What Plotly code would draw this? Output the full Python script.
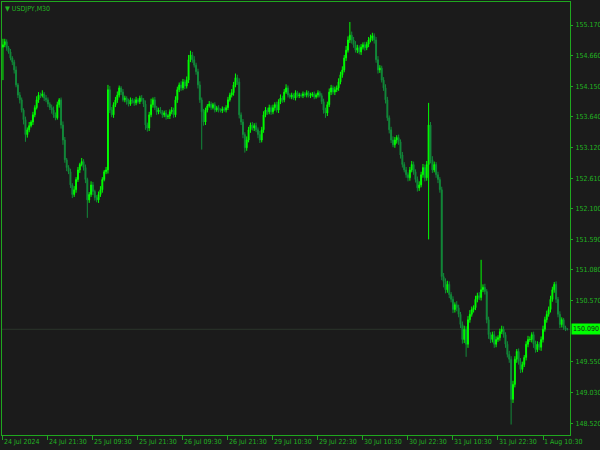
import plotly.graph_objects as go

# ---------------- data ----------------
first_open = 154.80

close = [
    154.84,154.89,154.79,154.72,154.62,154.55,154.42,154.17,154.00,153.92,
    153.75,153.59,153.34,153.42,153.49,153.55,153.67,153.79,153.92,154.00,
    153.99,154.02,153.95,153.92,153.85,153.79,153.75,153.67,153.62,153.84,
    153.92,153.50,153.25,152.92,152.79,152.72,152.50,152.34,152.42,152.59,
    152.75,152.84,152.89,152.79,152.59,152.25,152.34,152.50,152.39,152.29,
    152.25,152.34,152.42,152.59,152.72,152.75,154.09,153.75,153.67,153.84,
    153.92,154.00,154.12,154.05,153.92,153.95,153.89,153.85,153.92,153.90,
    153.87,153.92,153.89,153.95,153.92,153.85,153.50,153.45,153.67,153.84,
    153.92,153.79,153.72,153.75,153.72,153.67,153.70,153.64,153.65,153.72,
    153.75,153.67,153.92,154.09,154.17,154.12,154.22,154.15,154.25,154.59,
    154.67,154.59,154.50,154.39,154.17,153.92,153.72,153.55,153.75,153.82,
    153.85,153.79,153.84,153.75,153.79,153.75,153.74,153.77,153.75,153.79,
    153.92,154.00,154.04,154.17,154.29,154.22,153.67,153.55,153.34,153.12,
    153.25,153.42,153.50,153.45,153.49,153.42,153.34,153.25,153.42,153.67,
    153.75,153.72,153.79,153.72,153.79,153.84,153.75,153.89,153.95,153.92,
    154.05,154.12,154.00,153.97,154.00,153.95,154.04,153.99,154.00,153.99,
    154.02,154.00,154.04,153.99,154.00,154.02,153.97,154.00,154.04,153.99,
    153.89,153.75,153.70,153.84,154.05,154.12,154.05,154.09,154.12,154.22,
    154.34,154.42,154.62,154.75,154.92,155.00,154.92,154.84,154.75,154.79,
    154.72,154.80,154.84,154.79,154.85,154.92,154.95,154.99,154.92,154.59,
    154.42,154.45,154.25,154.12,153.92,153.62,153.42,153.25,153.17,153.25,
    153.29,153.22,153.00,152.84,152.75,152.67,152.62,152.75,152.84,152.72,
    152.59,152.45,152.50,152.67,152.79,152.62,152.84,153.50,152.92,152.75,
    152.84,152.67,152.59,152.42,150.97,150.89,150.75,150.84,150.67,150.59,
    150.42,150.50,150.45,150.34,150.17,149.92,150.09,149.84,150.25,150.34,
    150.42,150.45,150.59,150.65,150.62,150.75,150.79,150.72,150.25,150.00,
    149.92,150.00,149.84,149.92,149.95,150.05,150.09,150.00,149.84,149.67,
    149.59,148.92,149.17,149.59,149.72,149.55,149.42,149.50,149.62,149.84,
    149.92,149.92,150.00,149.84,149.75,149.84,149.79,149.92,150.09,150.25,
    150.34,150.42,150.59,150.75,150.84,150.59,150.34,150.17,150.25,150.12,
    150.09,150.09,
]

upper_wick = [
    0.10,0.05,0.04,0.03,0.05,0.03,0.04,0.06,0.03,0.05,0.04,0.03,0.05,0.04,0.06,0.03,0.05,0.04,0.06,0.05,
    0.04,0.06,0.03,0.05,0.04,0.03,0.05,0.06,0.04,0.05,0.03,0.04,0.06,0.05,0.03,0.04,0.05,0.03,0.06,0.04,
    0.05,0.03,0.06,0.04,0.05,0.03,0.04,0.06,0.05,0.03,0.04,0.05,0.06,0.04,0.03,0.05,0.08,0.06,0.05,0.04,
    0.05,0.06,0.04,0.03,0.05,0.04,0.03,0.05,0.04,0.03,0.04,0.05,0.03,0.04,0.05,0.03,0.06,0.04,0.05,0.10,
    0.04,0.05,0.03,0.04,0.05,0.03,0.04,0.05,0.03,0.04,0.05,0.04,0.06,0.05,0.04,0.06,0.05,0.04,0.06,0.08,
    0.07,0.05,0.06,0.04,0.05,0.06,0.04,0.05,0.04,0.03,0.05,0.04,0.03,0.04,0.03,0.04,0.03,0.04,0.03,0.04,
    0.05,0.04,0.06,0.05,0.07,0.05,0.06,0.04,0.05,0.04,0.06,0.05,0.04,0.05,0.04,0.05,0.04,0.06,0.05,0.06,
    0.05,0.04,0.05,0.04,0.05,0.04,0.05,0.04,0.06,0.04,0.05,0.06,0.04,0.03,0.04,0.03,0.04,0.03,0.04,0.03,
    0.04,0.03,0.04,0.03,0.04,0.03,0.04,0.03,0.04,0.03,0.04,0.05,0.04,0.05,0.06,0.05,0.04,0.05,0.04,0.06,
    0.05,0.06,0.05,0.07,0.06,0.22,0.06,0.05,0.06,0.05,0.04,0.05,0.04,0.05,0.04,0.05,0.06,0.05,0.04,0.05,
    0.06,0.05,0.04,0.05,0.06,0.05,0.04,0.05,0.06,0.05,0.04,0.05,0.04,0.05,0.04,0.05,0.04,0.05,0.06,0.05,
    0.04,0.05,0.06,0.05,0.06,0.05,0.06,0.37,0.05,0.06,0.05,0.04,0.05,0.04,0.05,0.06,0.05,0.06,0.05,0.04,
    0.05,0.04,0.06,0.05,0.04,0.05,0.06,0.05,0.06,0.07,0.05,0.04,0.06,0.05,0.06,0.50,0.05,0.06,0.04,0.05,
    0.04,0.05,0.06,0.05,0.04,0.05,0.06,0.05,0.04,0.05,0.06,0.05,0.06,0.05,0.04,0.05,0.06,0.05,0.04,0.05,
    0.06,0.05,0.04,0.05,0.06,0.05,0.04,0.05,0.06,0.05,0.06,0.05,0.06,0.05,0.04,0.05,0.04,0.05,0.04,0.03,
    0.03,0.02,
]

lower_wick = [
    0.55,0.04,0.05,0.03,0.04,0.05,0.06,0.04,0.05,0.06,0.04,0.08,0.12,0.05,0.04,0.03,0.05,0.04,0.03,0.05,
    0.04,0.03,0.05,0.04,0.05,0.04,0.06,0.05,0.04,0.03,0.05,0.06,0.08,0.05,0.06,0.04,0.05,0.06,0.04,0.05,
    0.04,0.05,0.03,0.05,0.06,0.30,0.05,0.04,0.06,0.05,0.04,0.05,0.04,0.05,0.03,0.04,0.06,0.05,0.04,0.05,
    0.04,0.05,0.04,0.05,0.03,0.04,0.05,0.04,0.03,0.04,0.05,0.04,0.03,0.04,0.03,0.05,0.08,0.06,0.05,0.04,
    0.05,0.04,0.05,0.04,0.03,0.05,0.04,0.05,0.04,0.05,0.04,0.05,0.04,0.05,0.04,0.05,0.04,0.05,0.04,0.05,
    0.04,0.05,0.04,0.05,0.06,0.05,0.63,0.06,0.05,0.04,0.03,0.04,0.03,0.04,0.03,0.04,0.03,0.04,0.03,0.04,
    0.04,0.03,0.04,0.05,0.04,0.05,0.06,0.05,0.06,0.08,0.05,0.04,0.05,0.04,0.05,0.04,0.06,0.05,0.04,0.05,
    0.04,0.05,0.04,0.05,0.04,0.05,0.04,0.05,0.04,0.05,0.04,0.03,0.04,0.03,0.04,0.03,0.04,0.03,0.04,0.03,
    0.04,0.03,0.04,0.03,0.04,0.03,0.04,0.03,0.04,0.03,0.04,0.06,0.08,0.05,0.04,0.05,0.04,0.05,0.04,0.05,
    0.04,0.05,0.04,0.05,0.04,0.05,0.06,0.05,0.04,0.05,0.04,0.05,0.04,0.05,0.04,0.05,0.04,0.05,0.06,0.05,
    0.06,0.05,0.04,0.05,0.06,0.05,0.06,0.05,0.04,0.05,0.06,0.05,0.06,0.05,0.04,0.05,0.06,0.05,0.04,0.05,
    0.05,0.06,0.05,0.04,0.05,0.06,0.05,1.25,0.06,0.05,0.04,0.05,0.06,0.05,0.06,0.10,0.06,0.05,0.06,0.05,
    0.06,0.05,0.06,0.05,0.06,0.07,0.06,0.21,0.06,0.05,0.04,0.05,0.04,0.05,0.04,0.05,0.04,0.05,0.06,0.07,
    0.06,0.05,0.06,0.05,0.04,0.05,0.04,0.05,0.06,0.05,0.06,0.42,0.06,0.05,0.06,0.05,0.06,0.05,0.04,0.05,
    0.05,0.04,0.05,0.06,0.05,0.04,0.05,0.06,0.05,0.04,0.05,0.04,0.05,0.04,0.05,0.06,0.05,0.06,0.05,0.04,
    0.03,0.02,
]

x_tick_bars = [0, 24, 48, 72, 96, 120, 144, 168, 192, 216, 240, 264, 288]
x_tick_labels = ["24 Jul 2024", "24 Jul 21:30", "25 Jul 09:30", "25 Jul 21:30",
                 "26 Jul 09:30", "26 Jul 21:30", "29 Jul 10:30", "29 Jul 22:30",
                 "30 Jul 10:30", "30 Jul 22:30", "31 Jul 10:30", "31 Jul 22:30",
                 "1 Aug 10:30"]
y_tick_values = [148.520, 149.030, 149.550, 150.570, 151.080, 151.590, 152.100,
                 152.610, 153.120, 153.640, 154.150, 154.660, 155.170]
current_price = 150.090
symbol_title = "USDJPY,M30"

# ---------------- build OHLC ----------------
n = len(close)
opens = [first_open] + close[:-1]
highs = [max(o, c) + u for o, c, u in zip(opens, close, upper_wick)]
lows = [min(o, c) - d for o, c, d in zip(opens, close, lower_wick)]
bars = list(range(n))

BG = "#1b1b1b"
FG = "#1fa81f"
TXT = "#22b422"
UP = "#00ff00"
DOWN = "#128a3a"
FONT = "Liberation Sans Narrow, DejaVu Sans Condensed, sans-serif"
FS = 7

fig = go.Figure()
fig.add_trace(go.Candlestick(
    x=bars, open=opens, high=highs, low=lows, close=close,
    increasing=dict(line=dict(color=UP, width=1), fillcolor=UP),
    decreasing=dict(line=dict(color=DOWN, width=1), fillcolor=DOWN),
    whiskerwidth=0, hoverinfo="skip", showlegend=False,
))

# current price line
fig.add_shape(type="line", xref="paper", x0=0, x1=1, yref="y",
              y0=current_price, y1=current_price,
              line=dict(color="#2c362c", width=1), layer="below")

# current price label
fig.add_annotation(xref="paper", x=1.0, xanchor="left", xshift=1,
                   yref="y", y=current_price, yanchor="middle",
                   text=f"{current_price:.3f}", showarrow=False,
                   bgcolor=UP, borderpad=1,
                   font=dict(family=FONT, size=FS, color="#1b1b1b"))

# title
fig.add_annotation(xref="paper", yref="paper", x=0.0, y=1.0,
                   xanchor="left", yanchor="top", xshift=1, yshift=-1,
                   text="▼ " + symbol_title, showarrow=False,
                   font=dict(family=FONT, size=FS, color=TXT))

fig.update_layout(
    width=600, height=450,
    paper_bgcolor=BG, plot_bgcolor=BG,
    margin=dict(l=2, r=30, t=2, b=15, pad=0),
    showlegend=False,
    hovermode=False,
    font=dict(family=FONT, size=FS, color=TXT),
    xaxis=dict(
        range=[-0.5, 302.4], rangeslider=dict(visible=False),
        automargin=False,
        showgrid=False, zeroline=False,
        showline=True, linecolor=FG, linewidth=1, mirror=True,
        tickmode="array", tickvals=x_tick_bars, ticktext=x_tick_labels,
        tickangle=0,
        ticks="outside", ticklen=4, tickcolor=FG, tickwidth=1,
        ticklabelposition="outside right",
        tickfont=dict(family=FONT, size=FS, color=TXT),
    ),
    yaxis=dict(
        side="right", range=[148.325, 155.554],
        automargin=False,
        showgrid=False, zeroline=False,
        showline=True, linecolor=FG, linewidth=1, mirror=True,
        tickmode="array", tickvals=y_tick_values,
        ticktext=[f"{v:.3f}" for v in y_tick_values],
        ticks="outside", ticklen=2, tickcolor=FG, tickwidth=1,
        ticklabelstandoff=1,
        tickfont=dict(family=FONT, size=FS, color=TXT),
    ),
)

fig.write_html(
    "out.html",
    config={"displayModeBar": False, "staticPlot": True},
    post_script="document.body.style.margin='0';document.body.style.padding='0';"
                "document.body.style.background='#1b1b1b';",
)
